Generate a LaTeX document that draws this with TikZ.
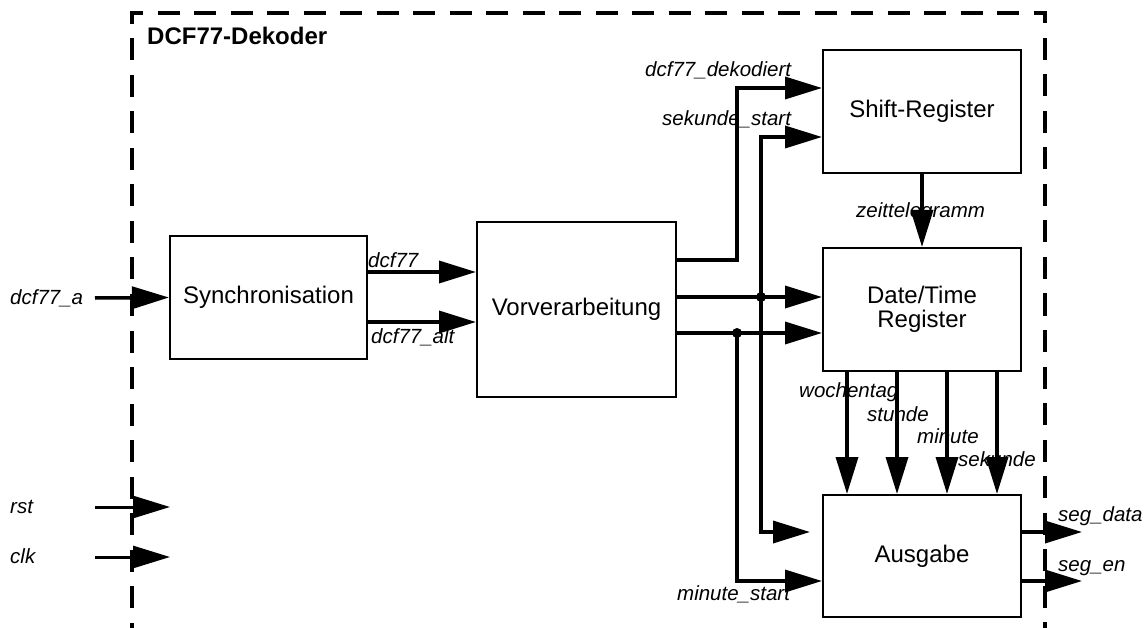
\documentclass[tikz,border=0pt]{standalone}
\usepackage{fontspec}
\setmainfont{Liberation Sans}
\usetikzlibrary{arrows.meta,calc}
\begin{document}
\begin{tikzpicture}[x=1pt,y=-1pt,
  blk/.style={draw, line width=2pt, inner sep=0pt, align=center,
    font=\fontsize{24}{24}\selectfont},
  sig/.style={line width=3.5pt, -{Triangle[length=37pt,width=22pt]}},
  thinsig/.style={sig, line width=3pt},
  lbl/.style={font=\fontsize{20.5}{24}\selectfont\itshape, inner sep=0pt, anchor=base west},
  jdot/.style={circle, fill, inner sep=0pt, minimum size=10pt},
  frame/.style={line width=4pt, dash pattern=on 22pt off 14.5pt, dash phase=16.5pt}]
\useasboundingbox (0,0) rectangle (1148,628);

% enclosing entity boundary
\draw[frame] (132,628) -- (132,13) -- (1045,13) -- (1045,660);
\node[font=\fontsize{24}{24}\selectfont\bfseries, anchor=base west, inner sep=0pt]
  (title) at (147,45) {DCF77-Dekoder};

% functional blocks
\node[blk, minimum width=197pt, minimum height=123pt] (sync)  at (268.5,297.5) {Synchronisation};
\node[blk, minimum width=199pt, minimum height=175pt] (vor)   at (576.5,309.5) {Vorverarbeitung};
\node[blk, minimum width=198pt, minimum height=123pt] (shift) at (922,111.5) {Shift-Register};
\node[blk, minimum width=198pt, minimum height=123pt] (dt)    at (922,309.5) {Date/Time\\Register};
\node[blk, minimum width=198pt, minimum height=122pt] (aus)   at (922,556) {Ausgabe};

% free ends of ports
\coordinate (inA) at (95,298);
\coordinate (inR) at (95,507);
\coordinate (inC) at (95,557);
\coordinate (rstEnd) at (170,507);
\coordinate (clkEnd) at (170,557);
\coordinate (secEnd) at (810,532);
\coordinate (sdEnd) at (1082,532);
\coordinate (seEnd) at (1082,581);

% junction dots
\node[jdot] (j1) at (761,297) {};
\node[jdot] (j2) at (737,333) {};

% inputs
\draw[sig] (inA) -- (sync.west);
\draw[thinsig] (inR) -- (rstEnd);
\draw[thinsig] (inC) -- (clkEnd);

% synchronisation -> preprocessing
\draw[sig] (sync.east |- 0,272) -- (vor.west |- 0,272);
\draw[sig] (sync.east |- 0,322) -- (vor.west |- 0,322);

% preprocessing outputs
\draw[sig] (vor.east |- 0,260) -| (737,88) -- (shift.west |- 0,88);
\draw[sig] (vor.east |- j1) -- (dt.west |- j1);
\draw[sig] (vor.east |- j2) -- (dt.west |- j2);
\draw[sig] (j1.center) |- (shift.west |- 0,137);
\draw[sig] (j1.center) |- (secEnd);
\draw[sig] (j2.center) |- (aus.west |- 0,581);

% shift register -> date/time register
\draw[sig] (shift.south) -- (dt.north);

% date/time fields -> output
\foreach \f in {0.125,0.375,0.625,0.875}
  \draw[sig] ($(dt.south west)!\f!(dt.south east)$) -- ($(aus.north west)!\f!(aus.north east)$);

% outputs
\draw[sig] (aus.east |- sdEnd) -- (sdEnd);
\draw[sig] (aus.east |- seEnd) -- (seEnd);

% signal names
\node[lbl] (Ldcfa) at (10,304) {dcf77\_a};
\node[lbl] (Lrst)  at (10,513) {rst};
\node[lbl] (Lclk)  at (10,563) {clk};
\node[lbl] (Ldcf)  at (368,268) {dcf77};
\node[lbl] (Lalt)  at (371,343) {dcf77\_alt};
\node[lbl] (Ldek)  at (645,77) {dcf77\_dekodiert};
\node[lbl] (Lsek)  at (662,126) {sekunde\_start};
\node[lbl] (Lzt)   at (856,218) {zeittelegramm};
\node[lbl] (Lwt)   at (799,397) {wochentag};
\node[lbl] (Lstd)  at (867,421) {stunde};
\node[lbl] (Lmin)  at (917,443) {minute};
\node[lbl] (Lsec)  at (958,466) {sekunde};
\node[lbl] (Lms)   at (677,600) {minute\_start};
\node[lbl] (Lsd)   at (1058,521) {seg\_data};
\node[lbl] (Lse)   at (1058,571) {seg\_en};
\end{tikzpicture}
\end{document}
